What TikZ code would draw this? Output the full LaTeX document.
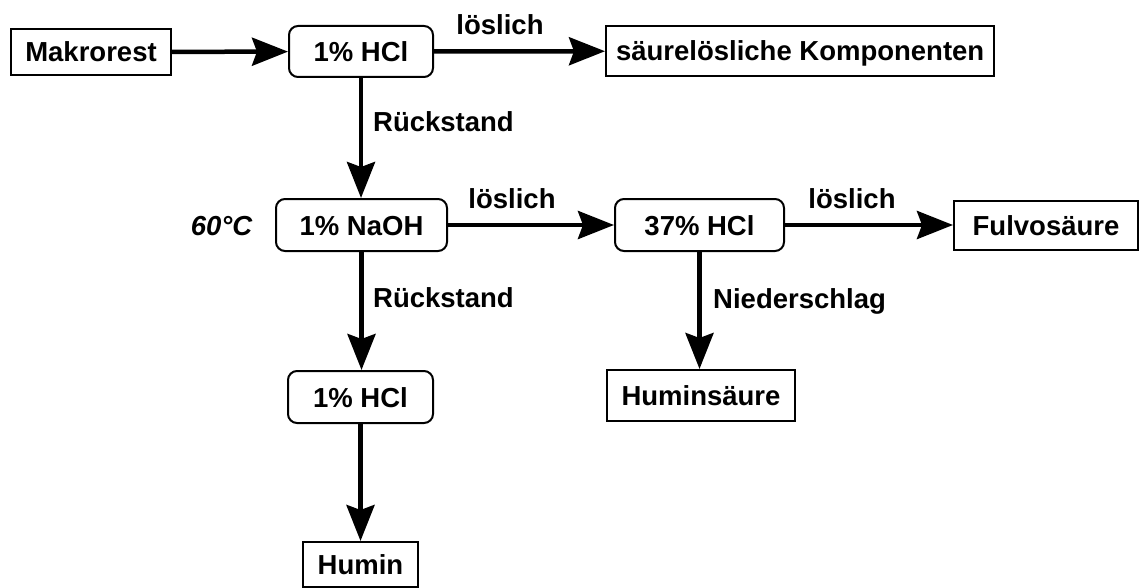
\documentclass[tikz,border=0pt]{standalone}
\usepackage{fontspec}
\setmainfont{Liberation Sans}
\usetikzlibrary{arrows.meta}
\tikzstyle{mybox}=[draw,line width=2pt,inner sep=0pt,text height=20pt,text depth=0pt]
\tikzstyle{myround}=[mybox,rounded corners=9pt]
\tikzstyle{mylabel}=[inner sep=0pt,text height=20pt,text depth=0pt]
\tikzstyle{myarrow}=[line width=4.5pt,-{Stealth[length=36pt,width=28pt,inset=5pt]}]

\begin{document}
\begin{tikzpicture}[x=1pt,y=-1pt,every node/.style={font=\fontsize{27.5}{33}\selectfont\bfseries}]
	\useasboundingbox (0,0) rectangle (1142,588);
	% top row
		\node[mybox,minimum width=160pt,minimum height=46pt] (makro) at (91,52) {Makrorest};
		\node[myround,minimum width=144pt,minimum height=51pt] (hclA) at (361,51.5) {1\% HCl};
		\node[mybox,anchor=west,inner xsep=10pt,minimum height=50pt] (saeure) at (605,51) {säurelösliche Komponenten};
	% middle row
		\node[myround,minimum width=171pt,minimum height=52pt] (naoh) at (361.5,225) {1\% NaOH};
		\node[myround,minimum width=169pt,minimum height=52pt] (hclC) at (699.5,225) {37\% HCl};
		\node[mybox,minimum width=184pt,minimum height=49pt] (fulvo) at (1046,225.5) {Fulvosäure};
	% bottom rows
		\node[myround,minimum width=145pt,minimum height=52pt] (hclB) at (360.5,397) {1\% HCl};
		\node[mybox,minimum width=188pt,minimum height=51pt] (humsr) at (701,395.5) {Huminsäure};
		\node[mybox,minimum width=115pt,minimum height=45pt] (humin) at (360.5,564.5) {Humin};

		\node[mylabel] (temp) at (221.5,225) {\itshape 60°C};
		\node[mylabel] (loesA) at (500,25) {löslich};
		\node[mylabel] (loesB) at (512,198) {löslich};
		\node[mylabel] (loesC) at (852,198) {löslich};
		\node[mylabel,anchor=west] (rueckA) at (373,122) {Rückstand};
		\node[mylabel,anchor=west] (rueckB) at (373,297) {Rückstand};
		\node[mylabel,anchor=west] (nieder) at (713,298) {Niederschlag};

		\draw[myarrow] (makro) -- (hclA);
		\draw[myarrow] (hclA) -- (saeure);
		\draw[myarrow] (hclA.south) -- (hclA.south |- naoh.north);
		\draw[myarrow] (naoh) -- (hclC);
		\draw[myarrow] (hclC) -- (fulvo.west |- hclC);
		\draw[myarrow] (naoh.south) -- (naoh.south |- hclB.north);
		\draw[myarrow] (hclB) -- (humin);
		\draw[myarrow] (hclC.south) -- (hclC.south |- humsr.north);
\end{tikzpicture}
\end{document}
